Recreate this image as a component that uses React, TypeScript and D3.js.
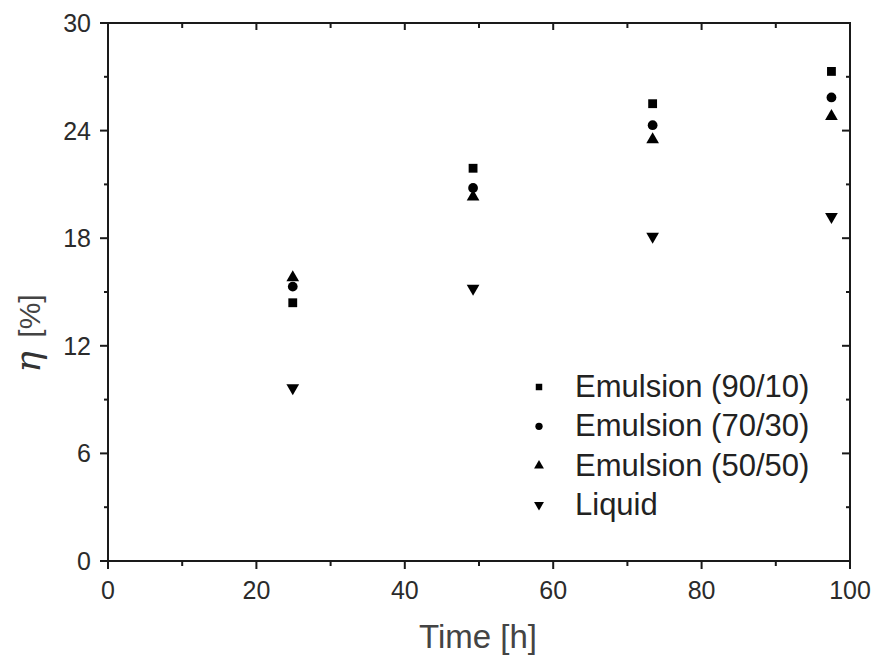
import React from "react";
import * as d3 from "d3";

const times = [24.9, 49.2, 73.4, 97.5];
const emulsion9010 = [14.4, 21.9, 25.5, 27.3];
const emulsion7030 = [15.3, 20.8, 24.3, 25.85];
const emulsion5050 = [15.8, 20.3, 23.5, 24.8];
const liquid = [9.65, 15.2, 18.1, 19.2];
const seriesNames = ["Emulsion (90/10)", "Emulsion (70/30)", "Emulsion (50/50)", "Liquid"];
const xTicks = [0, 20, 40, 60, 80, 100];
const yTicks = [0, 6, 12, 18, 24, 30];

const W = 877, H = 666;
const L = 108, R = 850, T = 23, B = 561;

export default function App() {
  const x = d3.scaleLinear().domain([0, 100]).range([L, R]);
  const y = d3.scaleLinear().domain([0, 30]).range([B, T]);
  const sqr = d3.symbol().type(d3.symbolSquare);
  const cir = d3.symbol().type(d3.symbolCircle);
  const tri = d3.symbol().type(d3.symbolTriangle);
  const series = [
    { vals: emulsion9010, path: sqr.size(78)(), lpath: sqr.size(42)(), rot: 0 },
    { vals: emulsion7030, path: cir.size(75)(), lpath: cir.size(42)(), rot: 0 },
    { vals: emulsion5050, path: tri.size(70)(), lpath: tri.size(42)(), rot: 0 },
    { vals: liquid, path: tri.size(70)(), lpath: tri.size(42)(), rot: 180 },
  ];
  const xMinor = d3.range(10, 100, 20);
  const yMinor = d3.range(3, 30, 6);
  const font = "'Liberation Sans', Arial, sans-serif";
  const stroke = "#1a1a1a";
  return (
    <svg width={W} height={H} style={{ position: "absolute", left: 0, top: 0, background: "#fff" }}>
      <rect x={0} y={0} width={W} height={H} fill="#fff" />
      <rect x={L} y={T} width={R - L} height={B - T} fill="none" stroke={stroke} strokeWidth={2} />
      {xTicks.map((t) => (
        <g key={"xb" + t}>
          <line x1={x(t)} x2={x(t)} y1={B} y2={B + 8} stroke={stroke} strokeWidth={2} />
          <line x1={x(t)} x2={x(t)} y1={T} y2={T + 7} stroke={stroke} strokeWidth={2} />
          <text x={x(t)} y={B + 38} textAnchor="middle" fontFamily={font} fontSize={25} fill="#2b2b2b">
            {t}
          </text>
        </g>
      ))}
      {xMinor.map((t) => (
        <g key={"xm" + t}>
          <line x1={x(t)} x2={x(t)} y1={B} y2={B + 5} stroke={stroke} strokeWidth={2} />
          <line x1={x(t)} x2={x(t)} y1={T} y2={T + 5} stroke={stroke} strokeWidth={2} />
        </g>
      ))}
      {yTicks.map((t) => (
        <g key={"y" + t}>
          <line x1={L - 8} x2={L} y1={y(t)} y2={y(t)} stroke={stroke} strokeWidth={2} />
          <line x1={R - 8} x2={R} y1={y(t)} y2={y(t)} stroke={stroke} strokeWidth={2} />
          <text x={L - 17} y={y(t) + 9} textAnchor="end" fontFamily={font} fontSize={25} fill="#2b2b2b">
            {t}
          </text>
        </g>
      ))}
      {yMinor.map((t) => (
        <g key={"ym" + t}>
          <line x1={L - 4} x2={L} y1={y(t)} y2={y(t)} stroke={stroke} strokeWidth={2} />
          <line x1={R - 4} x2={R} y1={y(t)} y2={y(t)} stroke={stroke} strokeWidth={2} />
        </g>
      ))}
      {series.map((s, si) =>
        s.vals.map((v, i) => (
          <path
            key={si + "-" + i}
            d={s.path as string}
            transform={`translate(${x(times[i])},${y(v)}) rotate(${s.rot})`}
            fill="#000"
          />
        ))
      )}
      {seriesNames.map((n, i) => (
        <g key={n} transform={`translate(0,${387 + i * 39.3})`}>
          <path d={series[i].lpath as string} transform={`translate(539,0) rotate(${series[i].rot})`} fill="#000" />
          <text x={575} y={10} fontFamily={font} fontSize={31} fill="#222">
            {n}
          </text>
        </g>
      ))}
      <text x={478} y={648} textAnchor="middle" fontFamily={font} fontSize={33} fill="#444">
        Time [h]
      </text>
      <text
        transform="translate(40,362) rotate(-90)"
        textAnchor="middle"
        fontFamily="'DejaVu Serif', 'Liberation Serif', serif"
        fontStyle="italic"
        fontSize={36}
        fill="#333"
      >
        η
      </text>
      <text transform="translate(40,316) rotate(-90)" textAnchor="middle" fontFamily={font} fontSize={30} fill="#444">
        [%]
      </text>
    </svg>
  );
}
